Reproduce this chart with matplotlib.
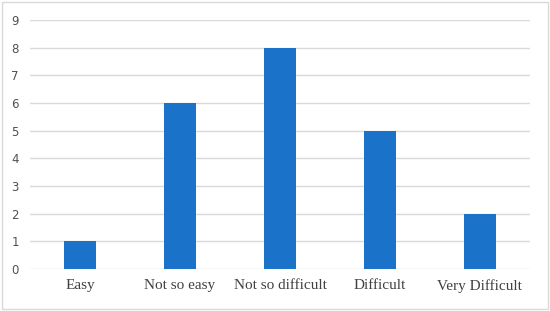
import matplotlib
matplotlib.use('Agg')
import matplotlib.pyplot as plt
from matplotlib.patches import Rectangle

categories = ['Easy', 'Not so easy', 'Not so difficult', 'Difficult', 'Very Difficult']
counts = [1, 6, 8, 5, 2]
yticks = list(range(0, 10))

fig = plt.figure(figsize=(5.5, 3.11), dpi=100)
ax = fig.add_axes([0.0545, 0.135, 0.909, 0.801])

x = range(len(categories))
ax.bar(x, counts, width=0.32, color='#1a73c9', zorder=3)

ax.set_xlim(-0.5, len(categories) - 0.5)
ax.set_ylim(0, 9)
ax.set_yticks(yticks)
ax.set_xticks(list(x))
ax.set_xticklabels(categories, family='Liberation Serif', fontsize=11, color='#404040')
ax.tick_params(axis='y', labelsize=8.5, colors='#505050', length=0, pad=8)
ax.tick_params(axis='x', length=0, pad=7)
ax.grid(axis='y', color='#d9d9d9', linewidth=1, zorder=0)
for s in ax.spines.values():
    s.set_visible(False)

# outer chart border
fig.patches.append(Rectangle((0.004, 0.006), 0.992, 0.988, transform=fig.transFigure,
                             fill=False, edgecolor='#d9d9d9', linewidth=1))

fig.savefig('out.png', dpi=100)
